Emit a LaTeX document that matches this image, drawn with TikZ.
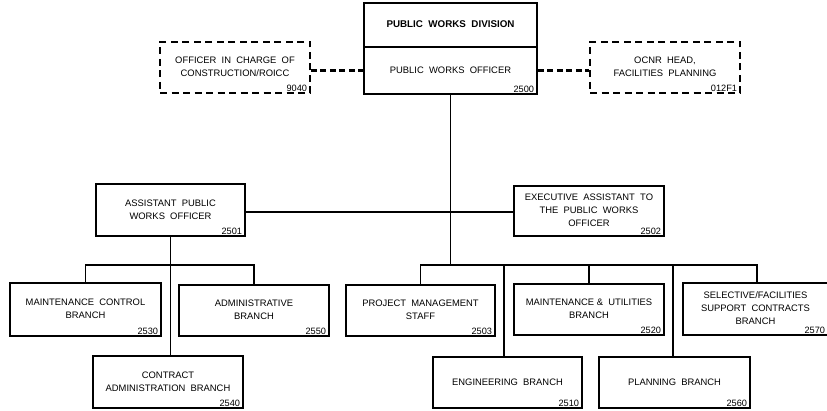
\documentclass[tikz,border=0pt]{standalone}
\usepackage{fontspec}
\setmainfont{Liberation Sans}
\begin{document}
\begin{tikzpicture}[x=1pt,y=-1pt,
  box/.style={draw, line width=1.5pt, inner sep=0pt, align=center,
    font=\fontsize{9.4}{13}\selectfont},
  dbox/.style={box, dash pattern=on 7pt off 4.5pt},
  code/.style={label={[anchor=south east, inner xsep=3.5pt, inner ysep=2pt, font=\fontsize{9.2}{10}\selectfont]south east:#1}},
  link/.style={line width=1.8pt},
  dlink/.style={line width=2.4pt, dash pattern=on 6pt off 3.5pt}]
\useasboundingbox (0,0) rectangle (827,411);
\newcommand{\bx}[8]{\node[#1, minimum width=#4-#2, minimum height=#5-#3] (#6) at ({(#2+#4)/2},{(#3+#5)/2}) {\raisebox{#7pt}{\begin{tabular}{@{}c@{}}#8\end{tabular}}}}
% top
\bx{box}{364}{3}{537}{47}{pwd}{0}{\fontsize{9.8}{13}\selectfont\bfseries PUBLIC\ \ WORKS\ \ DIVISION};
\bx{box,code=2500}{364}{47}{537}{94}{pwo}{0}{PUBLIC\ \ WORKS\ \ OFFICER};
\bx{dbox,code=9040}{160}{42}{310}{93}{oic}{0}{OFFICER\ \ IN\ \ CHARGE\ \ OF\\CONSTRUCTION/ROICC};
\bx{dbox,code=012F1}{590}{42}{740}{93}{ocnr}{0}{OCNR\ \ HEAD,\\FACILITIES\ \ PLANNING};
% middle
\bx{box,code=2501}{96}{184}{245}{236}{apwo}{1}{ASSISTANT\ \ PUBLIC\\WORKS\ \ OFFICER};
\bx{box,code=2502}{514}{186}{664}{236}{ea}{1.5}{EXECUTIVE\ \ ASSISTANT\ \ TO\\THE\ \ PUBLIC\ \ WORKS\\OFFICER};
% bottom left
\bx{box,code=2530}{10}{283}{161}{336}{mcb}{3}{MAINTENANCE\ \ CONTROL\\BRANCH};
\bx{box,code=2550}{179}{285}{329}{336}{adm}{3}{ADMINISTRATIVE\\BRANCH};
\bx{box,code=2540}{93}{356}{243}{408}{cab}{3}{CONTRACT\\ADMINISTRATION\ \ BRANCH};
% bottom right
\bx{box,code=2503}{346}{285}{495}{336}{pms}{3.5}{PROJECT\ \ MANAGEMENT\\STAFF};
\bx{box,code=2520}{514}{284}{664}{335}{mu}{3}{MAINTENANCE\ \&\ \ UTILITIES\\BRANCH};
\bx{box,code=2570}{683}{283}{828}{335}{sf}{0}{SELECTIVE/FACILITIES\\SUPPORT\ \ CONTRACTS\\BRANCH};
\bx{box,code=2510}{433}{357}{582}{408}{eng}{2}{ENGINEERING\ \ BRANCH};
\bx{box,code=2560}{599}{357}{750}{408}{pln}{2}{PLANNING\ \ BRANCH};
% connectors
\coordinate (lbus) at (0,265);
\coordinate (mid) at (0,212);
\draw[dlink] (oic.east |- pwo.west) -- (pwo.west);
\draw[dlink] (pwo.east) -- (ocnr.west |- pwo.east);
\draw[link] (pwo.south) -- (pwo.south |- lbus);
\draw[link] (apwo.east |- mid) -- (ea.west |- mid);
\draw[link] (apwo.south) -- (apwo.south |- cab.north);
\draw[link] (mcb.north) -- (mcb.north |- lbus) -- (adm.north |- lbus) -- (adm.north);
\draw[link] (pms.north) -- (pms.north |- lbus) -- (757,265) -- (757,283);
\draw[link] (mu.north) -- (mu.north |- lbus);
\draw[link] (504,265) -- (504,357);
\draw[link] (673,265) -- (673,357);
\end{tikzpicture}
\end{document}
